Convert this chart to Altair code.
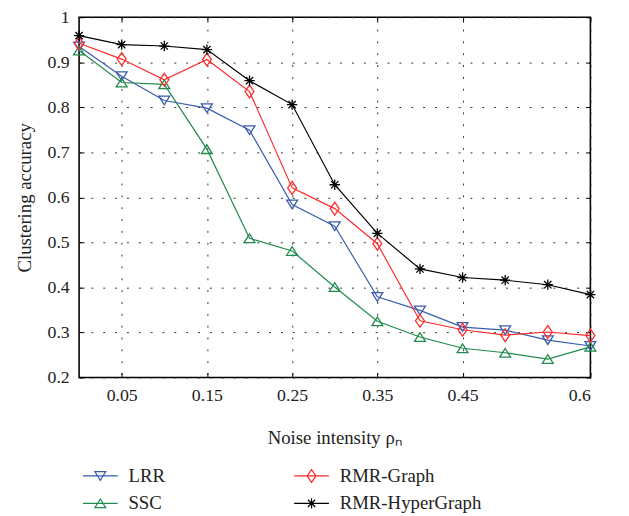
import altair as alt
import pandas as pd

# ---- data ----
noise = [0.0, 0.05, 0.1, 0.15, 0.2, 0.25, 0.3, 0.35, 0.4, 0.45, 0.5, 0.55, 0.6]
lrr = [0.935, 0.869, 0.815, 0.798, 0.749, 0.584, 0.536, 0.379, 0.349, 0.312, 0.305, 0.283, 0.270]
ssc = [0.926, 0.855, 0.851, 0.707, 0.509, 0.481, 0.401, 0.325, 0.290, 0.265, 0.255, 0.241, 0.268]
rmr_graph = [0.942, 0.907, 0.861, 0.906, 0.835, 0.621, 0.575, 0.497, 0.326, 0.306, 0.294, 0.301, 0.293]
rmr_hyper = [0.959, 0.939, 0.936, 0.928, 0.859, 0.806, 0.628, 0.520, 0.441, 0.422, 0.416, 0.406, 0.384]

series_names = ["LRR", "SSC", "RMR-Graph", "RMR-HyperGraph"]
series_values = [lrr, ssc, rmr_graph, rmr_hyper]
colors = ["#3a5cad", "#1f8a4c", "#ff2a2a", "#000000"]

x_ticks = [0.05, 0.15, 0.25, 0.35, 0.45, 0.6]
y_ticks = [0.2, 0.3, 0.4, 0.5, 0.6, 0.7, 0.8, 0.9, 1.0]

# marker paths (unit box)
tri_down = "M-1,-0.8L1,-0.8L0,0.8Z"
tri_up = "M-1,0.8L1,0.8L0,-0.8Z"
diamond = "M0,-1.18L0.82,0L0,1.18L-0.82,0Z"
asterisk = "M0,-0.95L0,0.95M-0.95,0L0.95,0M-0.67,-0.67L0.67,0.67M-0.67,0.67L0.67,-0.67"
markers = [tri_down, tri_up, diamond, asterisk]
seg = "M-3.2,0L3.2,0"
legend_markers = [seg + m for m in markers]

rows = []
for name, vals in zip(series_names, series_values):
    for xv, yv in zip(noise, vals):
        rows.append({"noise": xv, "series": name, "acc": yv})
df = pd.DataFrame(rows)

FONT = "Liberation Serif"

xscale = alt.Scale(domain=[0, 0.6], nice=False, zero=False)
yscale = alt.Scale(domain=[0.2, 1.0], nice=False, zero=False)

x_bottom = alt.Axis(orient="bottom", values=x_ticks, format=".2~f", offset=-5, tickSize=5,
                    domain=False, grid=True, gridDash=[2, 10], gridColor="#333333",
                    gridWidth=1, tickColor="black", labelPadding=9,
                    title="Noise intensity ρₙ", titlePadding=25)
y_left = alt.Axis(orient="left", values=y_ticks, format=".2~f", offset=-5, tickSize=5,
                  domain=False, grid=True, gridDash=[2, 10], gridColor="#333333",
                  gridWidth=1, tickColor="black", labelPadding=10,
                  title="Clustering accuracy", titlePadding=13)
x_top = alt.Axis(orient="top", values=x_ticks, offset=-5, tickSize=5, domain=False,
                 grid=False, labels=False, title=None, tickColor="black")
y_right = alt.Axis(orient="right", values=y_ticks, offset=-5, tickSize=5, domain=False,
                   grid=False, labels=False, title=None, tickColor="black")

color_scale = alt.Scale(domain=series_names, range=colors)

lines = alt.Chart(df).mark_line(strokeWidth=1.2).encode(
    x=alt.X("noise:Q", scale=xscale, axis=x_bottom),
    y=alt.Y("acc:Q", scale=yscale, axis=y_left),
    color=alt.Color("series:N", scale=color_scale, legend=None),
    detail="series:N",
)

points = alt.Chart(df).mark_point(filled=False, strokeWidth=1.3, size=121, opacity=1).encode(
    x=alt.X("noise:Q", scale=xscale, axis=x_top),
    y=alt.Y("acc:Q", scale=yscale, axis=y_right),
    color=alt.Color("series:N", scale=color_scale, legend=None),
    shape=alt.Shape("series:N", scale=alt.Scale(domain=series_names, range=markers), legend=None),
)

legend_props = dict(orient="none", legendX=12, legendY=455, columns=2,
                    columnPadding=128, rowPadding=8,
                    labelFont=FONT, labelFontSize=19, labelColor="#222",
                    labelOffset=19, symbolSize=121, symbolStrokeWidth=1.2,
                    title=None)

legend_layer = alt.Chart(df).transform_filter("false").mark_point(
    filled=False, strokeWidth=1.2, size=121, opacity=1
).encode(
    x=alt.X("noise:Q", scale=xscale, axis=None),
    y=alt.Y("acc:Q", scale=yscale, axis=None),
    color=alt.Color("series:N", scale=color_scale, title=None,
                    legend=alt.Legend(**legend_props)),
    shape=alt.Shape("series:N", scale=alt.Scale(domain=series_names, range=legend_markers),
                    title=None, legend=alt.Legend(**legend_props)),
)

chart = alt.layer(lines, points, legend_layer).resolve_scale(
    color="independent", shape="independent"
).resolve_axis(x="independent", y="independent").properties(
    width=518, height=365,
    autosize=alt.AutoSizeParams(type="none"),
    padding={"left": 72, "top": 6, "right": 31, "bottom": 137},
).configure_view(stroke="black", strokeWidth=1.6).configure_axis(
    labelFont=FONT, labelFontSize=18, labelColor="#222",
    titleFont=FONT, titleFontSize=19, titleFontWeight="normal", titleColor="#222",
)

chart.save("out.html", embed_options={"renderer": "svg", "actions": False})
